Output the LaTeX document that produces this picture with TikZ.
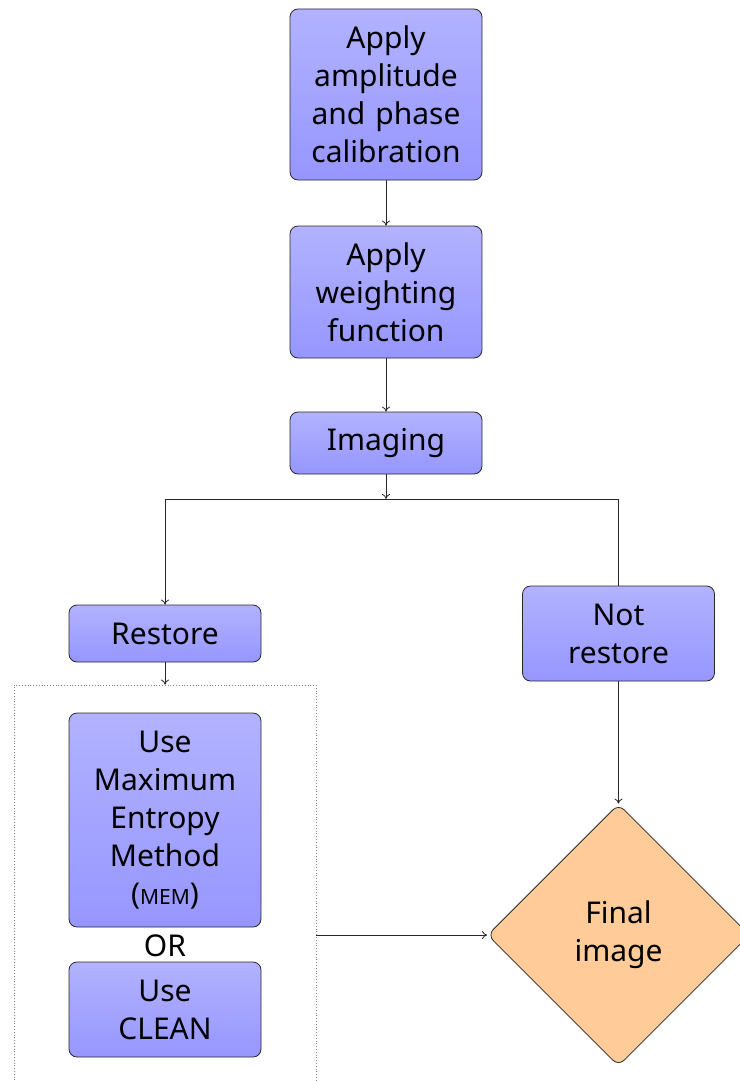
\documentclass[tikz,border=0pt]{standalone}
\usepackage{fontspec}
\setmainfont{Noto Sans}
\usetikzlibrary{shapes.geometric,arrows.meta,calc}
\definecolor{boxtop}{RGB}{178,178,255}
\definecolor{boxbot}{RGB}{150,150,255}
\definecolor{finfill}{RGB}{255,204,153}
\definecolor{edge}{RGB}{40,40,40}
\begin{document}
\begin{tikzpicture}[x=1pt,y=-1pt,
  procbox/.style={draw=edge, line width=0.8pt, rounded corners=8pt, top color=boxtop, bottom color=boxbot,
    minimum width=192pt, text width=180pt, align=center, inner sep=0pt,
    font=\fontsize{30}{38}\selectfont},
  finbox/.style={diamond, draw=edge, line width=0.8pt, rounded corners=8pt, fill=finfill,
    minimum width=262pt, minimum height=262pt, aspect=1, inner sep=0pt, align=center,
    font=\fontsize{30}{38}\selectfont},
  conn/.style={draw=edge, line width=0.8pt},
  arr/.style={conn, -{To[length=5pt,width=8pt]}},
  grpbox/.style={draw=gray, dotted, line width=0.8pt, minimum width=302pt, minimum height=410pt, inner sep=0pt}
]
\useasboundingbox (0,0) rectangle (739,1081);

\node[procbox, minimum height=171pt] (b1) at (386,94.5) {Apply\\amplitude\\and phase\\calibration};
\node[procbox, minimum height=132pt] (b2) at (386,292) {Apply\\weighting\\function};
\node[procbox, minimum height=62pt] (img) at (386,443) {Imaging};
\coordinate (split) at (386,499);
\node[procbox, minimum height=57pt] (rest) at (165,633.5) {Restore};
\node[procbox, minimum height=95pt] (nrest) at (618.5,633.5) {Not\\restore};
\node[grpbox] (grp) at (165,890) {};
\node[procbox, minimum height=214pt] (mem) at (165,820) {Use\\Maximum\\Entropy\\Method\\({\fontsize{21}{38}\selectfont MEM})};
\node[font=\fontsize{30}{38}\selectfont, inner sep=0pt] (or) at (165,946) {OR};
\node[procbox, minimum height=95pt] (clean) at (165,1009.5) {Use\\CLEAN};
\node[finbox] (fin) at (618.5,935) {Final\\image};

\draw[arr] (b1.south) -- (b2.north);
\draw[arr] (b2.south) -- (img.north);
\draw[arr] (img.south) -- (split);
\draw[arr] (split) -| (rest.north);
\draw[conn] (split) -| (nrest.north);
\draw[arr] (rest.south) -- (grp.north);
\draw[arr] (nrest.south) -- (fin.north);
\draw[arr] (grp.east |- fin.west) -- (fin.west);
\end{tikzpicture}
\end{document}
